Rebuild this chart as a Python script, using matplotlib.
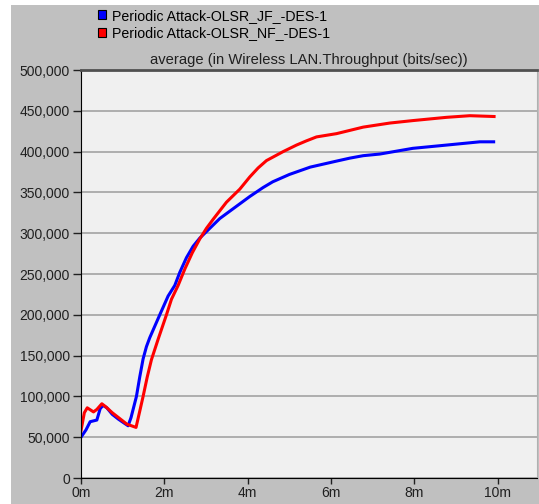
import matplotlib
matplotlib.use("Agg")
import matplotlib.pyplot as plt
from matplotlib.patches import Patch, Rectangle
from matplotlib.ticker import FuncFormatter

plt.rcParams['font.family'] = ['Liberation Sans', 'DejaVu Sans']

# throughput samples, time in minutes
jf_time = [0, 0.12, 0.22, 0.3, 0.38, 0.46, 0.53, 0.62, 0.75, 0.9, 1.13, 1.2, 1.27, 1.33,
           1.41, 1.49, 1.57, 1.65, 1.77, 1.89, 2.09, 2.25, 2.37, 2.53, 2.69, 2.85, 3.01,
           3.33, 3.65, 4.05, 4.37, 4.6, 5.0, 5.5, 6.1, 6.45, 6.77, 7.17, 7.96, 8.77,
           9.57, 9.9]
jf_value = [50000, 59000, 69000, 70000, 71000, 85000, 89000, 86000, 78000, 72000, 64000,
            74000, 88000, 100000, 124000, 146000, 161000, 172000, 186000, 200000, 223000,
            236000, 252000, 270000, 284000, 294000, 302000, 318000, 330000, 345000,
            356000, 363000, 372000, 381000, 388000, 392000, 395000, 397000, 404000,
            408000, 412000, 412000]

nf_time = [0, 0.08, 0.15, 0.3, 0.38, 0.5, 0.6, 0.75, 0.9, 1.1, 1.32, 1.41, 1.49, 1.59,
           1.69, 1.85, 2.05, 2.17, 2.33, 2.49, 2.67, 2.85, 3.01, 3.17, 3.49, 3.81, 4.05,
           4.25, 4.45, 4.85, 5.17, 5.4, 5.65, 6.13, 6.77, 7.41, 7.96, 8.77, 9.33, 9.91]
nf_value = [58000, 80000, 86000, 81000, 84000, 91000, 87000, 80000, 74000, 66000, 62000,
            82000, 100000, 124000, 145000, 170000, 200000, 219000, 236000, 256000,
            276000, 293000, 306000, 317000, 338000, 354000, 369000, 380000, 389000,
            400000, 408000, 413000, 418000, 422000, 430000, 435000, 438000, 442000,
            444000, 443000]

labels = ["Periodic Attack-OLSR_JF_-DES-1", "Periodic Attack-OLSR_NF_-DES-1"]
title = "average (in Wireless LAN.Throughput (bits/sec))"
x_ticks = [0, 2, 4, 6, 8, 10]
y_ticks = list(range(0, 500001, 50000))

fig = plt.figure(figsize=(5.39, 5.04), dpi=100, facecolor="white")
# gray panel behind everything
fig.patches.append(Rectangle((11 / 539, 0), 1, 499 / 504, transform=fig.transFigure,
                             facecolor="#c0c0c0", edgecolor="none", zorder=-1))

ax = fig.add_axes([81 / 539, 26 / 504, 456 / 539, 408 / 504])
ax.set_facecolor("#f0f0f0")

ax.plot(jf_time, jf_value, color="#0000ff", lw=2.2, label=labels[0])
ax.plot(nf_time, nf_value, color="#ff0000", lw=2.2, label=labels[1])

ax.set_xlim(0, 10.94)
ax.set_ylim(0, 500000)
ax.set_xticks(x_ticks)
ax.set_yticks(y_ticks)
ax.xaxis.set_major_formatter(FuncFormatter(lambda v, p: f"{v:.0f}m"))
ax.yaxis.set_major_formatter(FuncFormatter(lambda v, p: f"{v:,.0f}"))
ax.tick_params(axis="both", labelsize=10, colors="#202020", width=1)
ax.tick_params(axis="y", length=6, pad=2)
ax.tick_params(axis="x", length=4, pad=2)
ax.grid(axis="y", color="#a8a8a8", lw=1.3)
ax.set_axisbelow(True)

ax.spines["left"].set_color("black")
ax.spines["bottom"].set_color("black")
ax.spines["top"].set_color("#505050")
ax.spines["top"].set_linewidth(2)
ax.spines["right"].set_color("#b0b0b0")

ax.set_title(title, fontsize=10.6, color="#202020", pad=4)

handles = [Patch(facecolor="#0000ff", edgecolor="black", lw=0.8),
           Patch(facecolor="#ff0000", edgecolor="black", lw=0.8)]
fig.legend(handles, labels, loc="upper left", bbox_to_anchor=(92 / 539, 1 - 3 / 504),
           frameon=False, fontsize=10.2, handlelength=0.6, handleheight=0.6,
           handletextpad=0.4, labelspacing=0.25, borderaxespad=0)

fig.savefig("out.png", dpi=100, facecolor=fig.get_facecolor())
